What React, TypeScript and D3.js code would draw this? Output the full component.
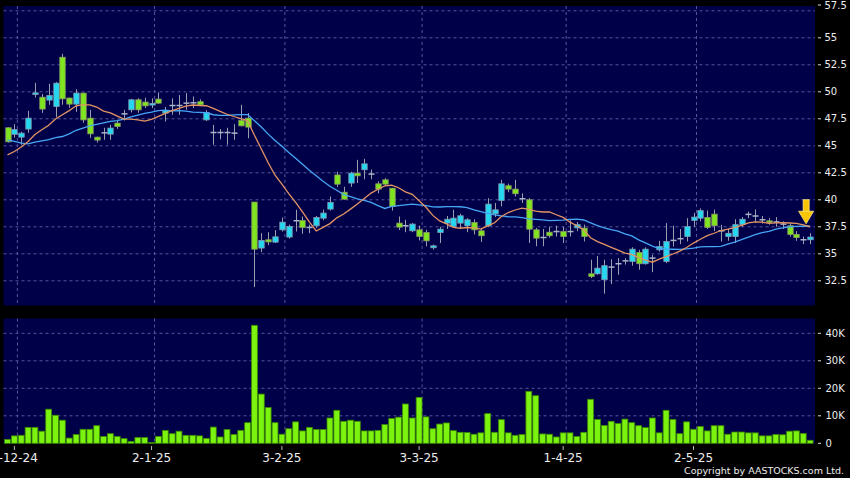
import React from 'react';
import * as d3 from 'd3';

// ---- data ----
const openP = [46.67,46.07,45.8,46.55,49.75,49.5,49.23,48.64,53.2,49.42,48.86,49.88,47.56,45.8,46.2,46.08,47.1,47.96,48.33,49.26,49.05,48.77,49.32,48.03,48.73,48.73,48.95,48.98,49.08,47.4,46.23,46.23,46.23,46.17,47.35,47.56,39.79,35.53,36.3,36.08,37.22,36.55,38.06,38.08,37.44,37.6,38.3,39.14,42.3,40.7,41.55,42.47,42.78,42.38,41.48,41.85,41.07,37.84,37.6,37.13,37.22,36.97,35.56,36.97,37.84,37.53,37.84,37.6,37.9,37.13,37.6,38.7,39.93,41.3,40.99,40.1,40.0,37.22,36.51,37.0,37.06,37.06,37.06,37.4,37.38,33.15,33.15,32.6,33.77,34.08,34.35,34.29,35.12,34.08,34.6,35.37,34.29,36.24,36.4,36.6,38.08,38.3,38.36,38.67,37.13,36.6,36.6,37.7,38.65,38.5,38.15,38.05,37.95,37.75,37.6,36.8,36.3,36.3];
const highP = [46.7,47.0,46.3,48.24,50.83,49.8,50.74,50.9,53.52,49.45,50.25,49.9,48.33,45.85,46.67,46.94,47.4,48.33,49.35,49.4,49.45,49.4,49.94,48.6,49.4,49.7,49.88,49.56,49.3,48.3,46.94,46.55,46.67,47.0,48.8,48.03,39.8,36.9,37.0,37.2,38.36,37.7,39.07,38.45,37.7,38.5,39.1,40.3,42.6,41.2,42.6,43.7,43.8,42.8,41.7,42.0,41.1,38.45,38.15,37.85,37.6,37.22,35.85,37.5,38.5,39.07,38.7,38.3,38.2,37.4,40.15,39.7,41.85,41.5,41.85,40.6,40.16,37.4,37.3,37.5,37.6,37.5,38.1,37.95,37.7,34.45,34.8,34.45,34.5,34.6,34.6,35.6,35.37,35.6,34.9,36.2,37.84,37.6,37.3,38.3,38.8,39.2,39.0,39.1,37.68,37.3,38.2,38.4,38.9,39.1,38.5,38.3,38.4,38.0,37.8,37.1,36.6,36.9];
const lowP = [45.3,45.75,45.1,46.2,49.47,48.05,48.8,47.66,48.8,48.5,48.15,47.13,45.74,45.3,45.56,45.56,46.57,47.34,48.08,48.06,48.5,48.5,48.9,47.25,47.87,47.87,48.33,48.5,48.8,47.3,45.1,45.6,45.1,45.56,46.8,45.7,31.92,35.16,35.8,36.0,37.06,36.4,37.06,36.85,36.9,37.4,38.1,39.0,41.2,40.0,41.2,41.55,41.9,41.9,40.6,41.3,39.0,37.2,37.0,37.0,36.24,35.7,35.4,36.0,37.3,37.47,37.3,37.0,36.8,36.1,37.47,38.4,39.4,40.7,40.3,39.7,36.0,35.7,35.7,36.5,36.6,36.0,36.6,37.1,36.15,32.75,33.06,31.3,32.2,33.06,34.0,33.9,33.52,34.0,33.3,35.2,34.14,35.68,35.9,36.14,37.5,38.0,37.3,37.1,36.14,36.2,36.0,37.5,38.3,37.9,37.8,37.7,37.5,37.3,36.6,36.2,35.9,35.9];
const closeP = [45.37,46.5,46.17,47.56,49.9,48.4,49.66,50.8,49.35,48.86,49.88,47.4,46.11,45.53,46.2,46.64,46.79,47.96,49.26,48.33,48.7,48.92,48.95,48.24,48.73,48.73,48.95,48.98,48.8,48.08,46.23,46.23,46.23,46.17,46.85,46.73,35.43,36.24,36.1,36.57,37.93,37.53,38.06,37.44,37.44,38.36,38.77,39.76,41.45,40.06,42.47,42.22,43.33,42.38,40.99,41.45,39.37,37.47,37.6,37.75,36.6,36.2,35.74,37.28,38.2,38.3,38.52,38.15,37.22,36.67,39.6,39.07,41.48,40.99,40.56,40.1,37.28,36.45,36.51,36.67,37.06,36.6,37.06,37.7,36.6,32.9,33.67,33.9,33.77,34.08,34.35,35.43,34.08,35.43,34.6,35.68,36.14,36.24,36.4,37.53,38.4,39.0,37.44,37.6,37.13,36.9,37.7,38.2,38.65,38.5,38.15,37.9,37.95,37.75,36.8,36.5,36.3,36.55];
const volumeK = [1.4,2.7,2.9,5.8,5.8,4.4,12.4,10.2,8.4,1.9,3.2,5.1,5.1,6.4,2.5,3.5,2.5,1.7,0.7,2.1,2.1,0.3,2.5,4.7,3.5,4.4,2.9,2.9,2.7,1.8,5.9,2.3,5.0,3.2,4.7,7.5,42.9,17.9,13.0,7.5,3.3,5.3,7.8,4.5,5.8,5.0,5.0,9.2,12.0,8.0,8.4,8.0,4.5,4.5,4.7,6.8,9.0,9.5,14.3,9.2,16.7,9.6,5.3,7.0,7.4,4.6,4.0,3.9,3.3,3.8,10.8,4.0,8.6,3.8,2.9,3.2,18.9,17.3,3.4,3.3,2.3,3.8,3.8,2.5,4.0,16.0,8.7,6.5,8.0,7.2,8.8,7.5,6.4,5.7,9.2,3.8,12.0,8.7,3.5,7.8,5.1,6.1,4.5,6.4,6.4,3.3,4.1,4.1,3.8,3.8,2.7,2.7,3.2,3.1,4.4,4.5,3.6,1.1];
// closes before the visible window (estimated from where the averages start)
const priorCloses = [49.5,49.3,49.0,46.5,46.2,47.5,47.2,47.1,44.0,43.2,43.5,42.0,42.4,43.5,44.0,45.5,45.0,45.4,45.0];
const priceTicks = [32.5,35,37.5,40,42.5,45,47.5,50,52.5,55,57.5];
const volTicks = [0,10,20,30,40];
const dateTickIdx = [1,21,40,60,81,100];
const dateTickLabels = ['2-12-24','2-1-25','3-2-25','3-3-25','1-4-25','2-5-25'];

const FONT = '"DejaVu Sans", Verdana, sans-serif';

function sma(n: number): number[] {
  const all = priorCloses.concat(closeP);
  const off = priorCloses.length;
  return closeP.map((_, i) => d3.mean(all.slice(i + off - n + 1, i + off + 1)) as number);
}

export default function App() {
  const W = 850, H = 478;
  const panelL = 3.5, panelR = 815;
  const pTop = 6, pBot = 305.5, vTop = 318.5, vBot = 443.5;
  const idx = closeP.map((_, i) => i);
  const x = d3.scaleBand<number>().domain(idx).range([4.07, 813.55]).padding(0);
  const bw = x.bandwidth();
  const cx = (i: number) => (x(i) as number) + bw / 2;
  const y = d3.scaleLinear().domain([32.5, 57.5]).range([280.8, 10.8]);
  const vy = d3.scaleLinear().domain([0, 40]).range([443.3, 333.3]);
  const ma10 = sma(10), ma20 = sma(20);
  const line = d3.line<number>().x((_, i) => cx(i)).y(d => y(d)).curve(d3.curveLinear);
  const grid = '#55559a';
  const green = '#7fe51f', cyan = '#25d8f2';

  const lastMa = ma10[ma10.length - 1];
  const ax = cx(closeP.length - 1) - 4;
  const tipY = y(lastMa) - 3;

  return (
    <svg width={W} height={H} style={{ position: 'absolute', left: 0, top: 0, display: 'block', background: '#000' }}>
      <rect x={0} y={0} width={W} height={H} fill="#000" />
      <rect x={panelL} y={pTop} width={panelR - panelL} height={pBot - pTop} fill="#000048" />
      <rect x={panelL} y={vTop} width={panelR - panelL} height={vBot - vTop} fill="#000048" />
      {/* price grid */}
      {priceTicks.map(t => (
        <line key={'pg' + t} x1={panelL} x2={panelR} y1={y(t)} y2={y(t)} stroke={grid} strokeDasharray="3,3" strokeWidth={1} />
      ))}
      {volTicks.filter(t => t > 0).map(t => (
        <line key={'vg' + t} x1={panelL} x2={panelR} y1={vy(t)} y2={vy(t)} stroke={grid} strokeDasharray="3,3" strokeWidth={1} />
      ))}
      {dateTickIdx.map(i => (
        <g key={'dg' + i}>
          <line x1={cx(i) + 3} x2={cx(i) + 3} y1={pTop} y2={pBot} stroke={grid} strokeDasharray="3,3" />
          <line x1={cx(i) + 3} x2={cx(i) + 3} y1={vTop} y2={vBot} stroke={grid} strokeDasharray="3,3" />
        </g>
      ))}
      {/* candles */}
      {idx.map(i => {
        const o = openP[i], c = closeP[i];
        const xc = Math.round(cx(i)) + 0.5;
        const wick = <line x1={xc} x2={xc} y1={y(highP[i])} y2={y(lowP[i])} stroke="#9a9cb0" strokeWidth={1} />;
        if (Math.abs(o - c) < 0.001) {
          return (
            <g key={'c' + i}>
              {wick}
              <line x1={xc - 3} x2={xc + 3} y1={y(o)} y2={y(o)} stroke="#a8b4c8" strokeWidth={1.5} />
            </g>
          );
        }
        const up = c > o;
        const top = y(Math.max(o, c)), bot = y(Math.min(o, c));
        return (
          <g key={'c' + i}>
            {wick}
            <rect x={xc - 2.7} y={top} width={5.4} height={Math.max(1.5, bot - top)} fill={up ? cyan : green} stroke={up ? '#7f9ab0' : '#8c9a62'} strokeWidth={0.8} />
          </g>
        );
      })}
      {/* moving averages */}
      <path d={line(ma20) || ''} fill="none" stroke="#46a6f5" strokeWidth={1.3} />
      <path d={line(ma10) || ''} fill="none" stroke="#e39463" strokeWidth={1.3} />
      {/* arrow */}
      <g>
        <rect x={ax - 3} y={tipY - 24} width={6} height={12} fill="#f7c600" stroke="#ffe680" strokeWidth={0.8} />
        <path d={`M${ax - 7.5},${tipY - 12.5} L${ax + 7.5},${tipY - 12.5} L${ax},${tipY} Z`} fill="#f7c600" stroke="#ffe680" strokeWidth={0.8} />
      </g>
      {/* volume bars */}
      {idx.map(i => (
        <rect key={'v' + i} x={(x(i) as number) + 0.5} y={vy(volumeK[i])} width={bw - 1} height={vy(0) - vy(volumeK[i])} fill="#7cf20f" stroke="#3a8a00" strokeWidth={0.8} />
      ))}
      {/* right price axis */}
      {priceTicks.map(t => {
        const ty = t === 57.5 ? 5 : y(t);
        return (
          <g key={'pt' + t}>
            <line x1={818} x2={821} y1={ty} y2={ty} stroke="#ddd" />
            <text x={824.5} y={ty} dy="0.36em" fontSize={10} fontFamily={FONT} fill="#eee">{t}</text>
          </g>
        );
      })}
      {volTicks.map(t => (
        <g key={'vt' + t}>
          <line x1={818} x2={821} y1={vy(t)} y2={vy(t)} stroke="#ddd" />
          <text x={825.5} y={vy(t)} dy="0.36em" fontSize={10} fontFamily={FONT} fill="#eee">{t === 0 ? '0' : t + 'K'}</text>
        </g>
      ))}
      {/* date axis */}
      {dateTickIdx.map((i, k) => (
        <g key={'dt' + i}>
          <line x1={cx(i)} x2={cx(i)} y1={446} y2={450} stroke="#bbb" />
          <text x={cx(i)} y={462} textAnchor="middle" fontSize={12} fontFamily={FONT} fill="#eee">{dateTickLabels[k]}</text>
        </g>
      ))}
      <text x={844} y={474} textAnchor="end" fontSize={9.5} fontFamily={FONT} fill="#eee">Copyright by AASTOCKS.com Ltd.</text>
    </svg>
  );
}
